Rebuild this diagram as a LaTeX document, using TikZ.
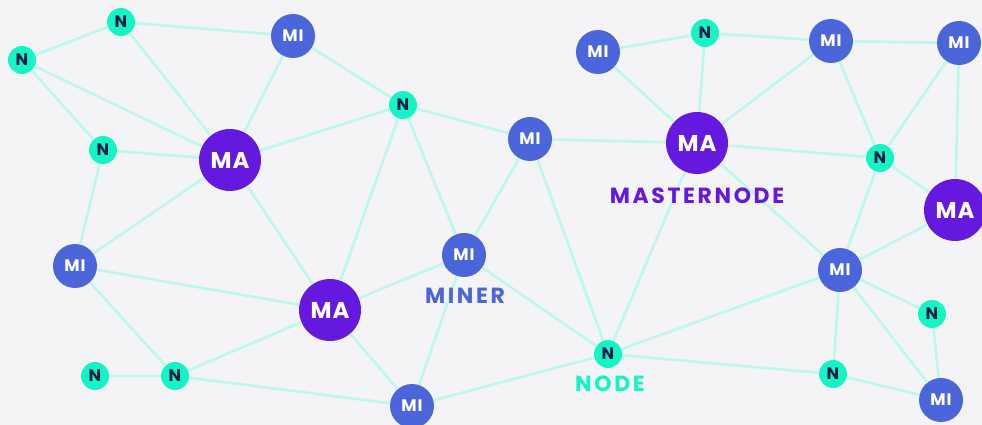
\documentclass[tikz,border=0pt]{standalone}
\usepackage{fontspec}
\setmainfont{Poppins}
\usepackage{tikz}
\usetikzlibrary{positioning}

\definecolor{bgcol}{HTML}{F4F4F7}
\definecolor{ncol}{HTML}{14F5C6}
\definecolor{micol}{HTML}{4B65DA}
\definecolor{macol}{HTML}{6519DF}
\definecolor{linkcol}{HTML}{BDF9EA}
\definecolor{ntext}{HTML}{1B1B45}

\begin{document}
\begin{tikzpicture}[x=0.02cm,y=-0.02cm,
    link/.style={draw=linkcol, line width=1.5pt},
    nd/.style={circle, fill=ncol, inner sep=0pt, minimum size=0.56cm,
        text=ntext, font=\bfseries\fontsize{9.5}{10}\selectfont},
    mi/.style={circle, fill=micol, inner sep=0pt, minimum size=0.88cm,
        text=white, font=\bfseries\fontsize{9.5}{10}\selectfont\addfontfeature{LetterSpace=5}},
    ma/.style={circle, fill=macol, inner sep=0pt, minimum size=1.24cm,
        text=white, font=\bfseries\fontsize{13}{14}\selectfont\addfontfeature{LetterSpace=5}},
    tag/.style={inner sep=0pt, font=\bfseries\fontsize{12.5}{13}\selectfont\addfontfeature{LetterSpace=12}}]
    % Background
    \fill[bgcol] (0,0) rectangle (982,425);
    \useasboundingbox (0,0) rectangle (982,425);

    % Nodes
    \foreach \name/\x/\y in {n1/121/22, n2/22/60, n3/103/150, n4/403/105,
        n5/95/376, n6/175/376, n7/608/354, n8/705/33, n9/880/158,
        n10/932/314, n11/833/374}
        \node[nd] (\name) at (\x,\y) {N};

    % Miners
    \foreach \name/\x/\y in {m1/293/36, m2/75/266, m3/530/139, m4/464/255,
        m5/412/406, m6/598/52, m7/831/41, m8/959/43, m9/840/270, m10/941/400}
        \node[mi] (\name) at (\x,\y) {MI};

    % Masternodes
    \foreach \name/\x/\y in {a1/230/160, a2/330/310, a3/697/143, a4/955/210}
        \node[ma] (\name) at (\x,\y) {MA};

    % Links
    \foreach \a/\b in {n1/n2, n1/m1, n1/a1, n2/a1, n2/n3, n3/a1, m1/a1, m1/n4,
        a1/n4, n3/m2, a1/m2, a1/a2, m2/a2, m2/n6, n5/n6, n6/a2, n6/m5,
        n4/m3, n4/a2, n4/m4, m3/a3, m3/m4, m3/n7, m6/n8, m6/a3, m4/a2,
        m4/m5, m4/n7, a2/m5, m5/n7, n7/a3, n7/m9, n7/n11, n8/m7, n8/a3,
        m7/m8, m7/a3, m7/n9, m8/n9, m8/a4, a3/n9, a3/m9, n9/a4, n9/m9,
        m9/a4, m9/n10, m9/n11, m9/m10, n10/m10, n11/m10}
        \draw[link] (\a) -- (\b);

    % Legend
    \node[tag, text=macol] (tagma) at (697,196) {MASTERNODE};
    \node[tag, text=micol] (tagmi) at (465,296) {MINER};
    \node[tag, text=ncol] (tagn) at (610,384) {NODE};
\end{tikzpicture}
\end{document}
